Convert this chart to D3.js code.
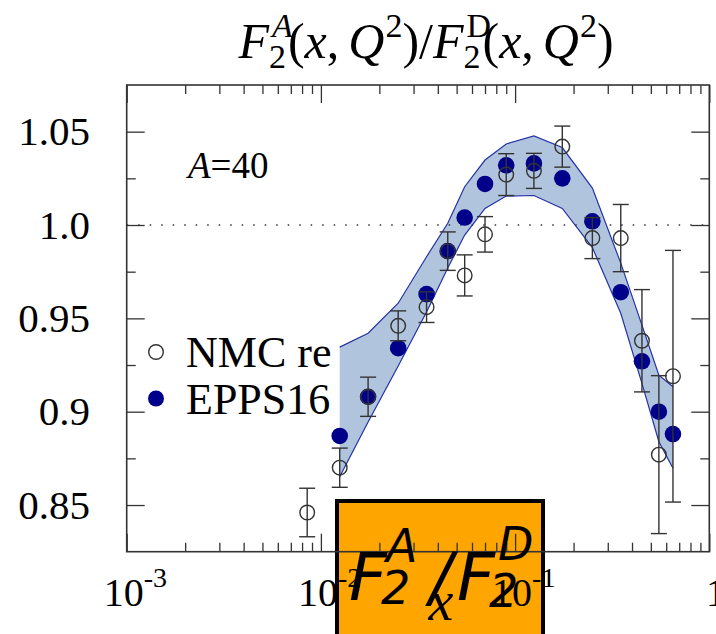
<!DOCTYPE html>
<html>
<head>
<meta charset="utf-8">
<script src="https://cdn.jsdelivr.net/npm/d3@7/dist/d3.min.js"></script>
<style>
  body { margin: 0; background: #fff; }
  svg { display: block; }
</style>
</head>
<body>
<svg id="chart"></svg>
<script>
// NMC re-analysis bins (x) and ratios
const nmcX = [0.0085, 0.0125, 0.0175, 0.025, 0.035, 0.045, 0.055, 0.07, 0.09, 0.125, 0.175, 0.25, 0.35, 0.45, 0.55, 0.65];
const nmcRatio = [0.846, 0.870, 0.908, 0.946, 0.956, 0.986, 0.973, 0.995, 1.027, 1.029, 1.042, 0.993, 0.993, 0.938, 0.877, 0.919];
const nmcError = [0.013, 0.0105, 0.0105, 0.008, 0.0082, 0.0103, 0.011, 0.0095, 0.0112, 0.0094, 0.011, 0.011, 0.018, 0.0274, 0.0423, 0.0674];

// EPPS16 central values and uncertainty band
const eppsX = [0.0125, 0.0175, 0.025, 0.035, 0.045, 0.055, 0.07, 0.09, 0.125, 0.175, 0.25, 0.35, 0.45, 0.55, 0.65];
const eppsCentral = [0.887, 0.908, 0.934, 0.963, 0.986, 1.004, 1.022, 1.032, 1.033, 1.025, 1.002, 0.964, 0.927, 0.900, 0.888];
const eppsUpper = [0.9346, 0.9420, 0.9581, 0.9830, 1.0009, 1.0205, 1.0348, 1.0434, 1.0477, 1.0415, 1.0198, 0.9796, 0.9464, 0.9196, 0.9134];
const eppsLower = [0.8652, 0.8945, 0.9245, 0.9534, 0.9770, 0.9946, 1.0089, 1.0155, 1.0158, 1.0089, 0.9879, 0.9527, 0.9152, 0.8839, 0.8697];

// tick labels
const yTicks = [0.85, 0.9, 0.95, 1.0, 1.05];
const yTickLabels = ['0.85', '0.9', '0.95', '1.0', '1.05'];
const xTicks = [1e-3, 1e-2, 1e-1, 1];
const xTickExp = ['-3', '-2', '-1', '0'];

const W = 716, H = 634;
const serif = '"Liberation Serif", "DejaVu Serif", serif';
const sans = '"DejaVu Sans", sans-serif';
const ink = '#333';

const svg = d3.select('#chart')
.attr('width', W)
.attr('height', H);

const x = d3.scaleLog()
.domain([1e-3, 1])
.range([126.7, 709.3]);

const y = d3.scaleLinear()
.domain([0.825, 1.075])
.range([551.7, 85]);

const [x0, x1] = x.range();
const [y0, y1] = y.range();

// writes a row of math pieces, returns the advance
function drawMath(parent, sx, sy, parts, fam) {
  let cx = sx;
  parts.forEach(p => {
    const t = parent.append('text')
    .attr('x', cx + (p.dx || 0))
    .attr('y', sy + (p.dy || 0))
    .style('font-family', p.fam || fam)
    .style('font-size', p.size + 'px')
    .style('font-style', p.it ? 'italic' : 'normal')
    .style('fill', '#000')
    .text(p.t);
    const w = t.node().getComputedTextLength();
    if (!p.stay) cx += w + (p.dx || 0);
  });
  return cx - sx;
}

// orange annotation box sits behind the axes
svg.append('rect')
.attr('x', 337)
.attr('y', 501)
.attr('width', 206)
.attr('height', 150)
.attr('fill', '#ffa500')
.attr('stroke', '#000')
.attr('stroke-width', 4);

// EPPS16 band
const bandData = eppsX.map((v, i) => ({x: v, lo: eppsLower[i], hi: eppsUpper[i]}));

svg.append('path')
.datum(bandData)
.attr('fill', '#b0c4de')
.attr('stroke', 'none')
.attr('d', d3.area().x(d => x(d.x)).y0(d => y(d.lo)).y1(d => y(d.hi)));

['lo', 'hi'].forEach(k => {
  svg.append('path')
  .datum(bandData)
  .attr('fill', 'none')
  .attr('stroke', '#2433a3')
  .attr('stroke-width', 1.2)
  .attr('d', d3.line().x(d => x(d.x)).y(d => y(d[k])));
});

// ratio = 1 reference
svg.append('line')
.attr('x1', x0).attr('x2', x1)
.attr('y1', y(1)).attr('y2', y(1))
.attr('stroke', ink)
.attr('stroke-width', 1.3)
.attr('stroke-dasharray', '1.5,10');

// EPPS16 points
svg.selectAll('circle.epps')
.data(eppsX.map((v, i) => ({x: v, r: eppsCentral[i]})))
.enter()
.append('circle')
.attr('class', 'epps')
.attr('cx', d => x(d.x))
.attr('cy', d => y(d.r))
.attr('r', 8.3)
.attr('fill', '#00008b');

// NMC points with error bars
const nmc = nmcX.map((v, i) => ({x: v, r: nmcRatio[i], e: nmcError[i]}));

const eb = svg.selectAll('g.err')
.data(nmc)
.enter()
.append('g')
.attr('class', 'err')
.attr('stroke', ink)
.attr('stroke-width', 1.4);

eb.append('line')
.attr('x1', d => x(d.x)).attr('x2', d => x(d.x))
.attr('y1', d => y(d.r - d.e)).attr('y2', d => y(d.r + d.e));
eb.append('line')
.attr('x1', d => x(d.x) - 8).attr('x2', d => x(d.x) + 8)
.attr('y1', d => y(d.r + d.e)).attr('y2', d => y(d.r + d.e));
eb.append('line')
.attr('x1', d => x(d.x) - 8).attr('x2', d => x(d.x) + 8)
.attr('y1', d => y(d.r - d.e)).attr('y2', d => y(d.r - d.e));

svg.selectAll('circle.nmc')
.data(nmc)
.enter()
.append('circle')
.attr('class', 'nmc')
.attr('cx', d => x(d.x))
.attr('cy', d => y(d.r))
.attr('r', 7.3)
.attr('fill', 'none')
.attr('stroke', ink)
.attr('stroke-width', 1.4);

// axes, ticks on all four sides pointing inwards
const minorX = [];
[1e-3, 1e-2, 1e-1].forEach(dec => {
  for (let m = 2; m <= 9; m++) minorX.push(dec * m);
});
const minorY = [0.875, 0.925, 0.975, 1.025];

function styleAxis(g) {
  g.select('.domain').remove();
  g.selectAll('.tick line').attr('stroke', ink).attr('stroke-width', 1.3);
  g.selectAll('.tick text').remove();
}

[[d3.axisBottom, y0], [d3.axisTop, y1]].forEach(([fn, pos]) => {
  svg.append('g')
  .attr('transform', `translate(0, ${pos})`)
  .call(fn(x).tickValues(xTicks).tickSize(-18))
  .call(styleAxis);
  svg.append('g')
  .attr('transform', `translate(0, ${pos})`)
  .call(fn(x).tickValues(minorX).tickSize(-9))
  .call(styleAxis);
});

[[d3.axisLeft, x0], [d3.axisRight, x1]].forEach(([fn, pos]) => {
  svg.append('g')
  .attr('transform', `translate(${pos}, 0)`)
  .call(fn(y).tickValues(yTicks).tickSize(-18))
  .call(styleAxis);
  svg.append('g')
  .attr('transform', `translate(${pos}, 0)`)
  .call(fn(y).tickValues(minorY).tickSize(-9))
  .call(styleAxis);
});

svg.append('rect')
.attr('x', x0).attr('y', y1)
.attr('width', x1 - x0).attr('height', y0 - y1)
.attr('fill', 'none')
.attr('stroke', ink)
.attr('stroke-width', 1.6);

// y tick labels
svg.selectAll('text.ylab')
.data(yTicks)
.enter()
.append('text')
.attr('class', 'ylab')
.attr('x', 90)
.attr('y', d => y(d) + 13.5)
.attr('text-anchor', 'end')
.style('font-family', serif)
.style('font-size', '41px')
.text((d, i) => yTickLabels[i]);

// x tick labels 10^n
xTicks.forEach((v, i) => {
  const sx = i === xTicks.length - 1 ? 706 : x(v) - 23;
  drawMath(svg, sx, 606, [
    {t: '10', size: 40},
    {t: xTickExp[i], size: 28, dy: -19}
  ], serif);
});

// title
const title = svg.append('g');
const tw = drawMath(title, 0, 58, [
  {t: 'F', size: 50, it: true},
  {t: 'A', size: 34, it: true, dx: 3, dy: -21, stay: true},
  {t: '2', size: 34, dy: 10},
  {t: '(', size: 50, dx: 2},
  {t: 'x', size: 50, it: true},
  {t: ',', size: 50},
  {t: 'Q', size: 50, it: true, dx: 9},
  {t: '2', size: 34, dx: 1, dy: -21},
  {t: ')/', size: 50},
  {t: 'F', size: 50, it: true},
  {t: 'D', size: 34, dx: 3, dy: -21, stay: true},
  {t: '2', size: 34, dy: 10},
  {t: '(', size: 50, dx: 2},
  {t: 'x', size: 50, it: true},
  {t: ',', size: 50},
  {t: 'Q', size: 50, it: true, dx: 9},
  {t: '2', size: 34, dx: 1, dy: -21},
  {t: ')', size: 50}
], serif);
title.attr('transform', `translate(${426 - tw / 2}, 0)`);

// nucleus label
drawMath(svg, 188, 178, [
  {t: 'A', size: 37, it: true},
  {t: '=40', size: 37}
], serif);

// legend
const legend = [
  {label: 'NMC re', filled: false},
  {label: 'EPPS16', filled: true}
];
legend.forEach((l, i) => {
  const ly = 352 + i * 46.5;
  svg.append('circle')
  .attr('cx', 156).attr('cy', ly)
  .attr('r', l.filled ? 8 : 7.3)
  .attr('fill', l.filled ? '#00008b' : 'none')
  .attr('stroke', l.filled ? 'none' : ink)
  .attr('stroke-width', 1.4);
  svg.append('text')
  .attr('x', 186)
  .attr('y', ly + 15)
  .style('font-family', serif)
  .style('font-size', '44px')
  .text(l.label);
});

// x axis label
svg.append('text')
.attr('x', 441)
.attr('y', 620)
.attr('text-anchor', 'middle')
.style('font-family', serif)
.style('font-style', 'italic')
.style('font-size', '56px')
.text('x');

// box caption F2^A / F2^D, pieces placed one by one
const caption = [
  {t: 'F', x: 349, y: 600, size: 66},
  {t: 'A', x: 386, y: 562, size: 46},
  {t: '2', x: 381, y: 604, size: 46},
  {t: '/', x: 430, y: 600, size: 66},
  {t: 'F', x: 457, y: 600, size: 66},
  {t: 'D', x: 498, y: 560, size: 46},
  {t: '2', x: 489, y: 607, size: 46}
];
svg.selectAll('text.cap')
.data(caption)
.enter()
.append('text')
.attr('class', 'cap')
.attr('x', d => d.x)
.attr('y', d => d.y)
.style('font-family', sans)
.style('font-style', 'italic')
.style('font-size', d => d.size + 'px')
.text(d => d.t);
</script>
</body>
</html>
